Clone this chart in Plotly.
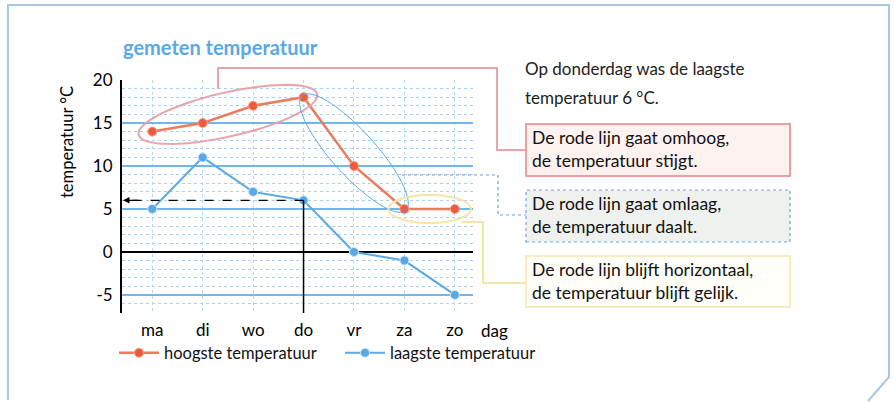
import numpy as np
import plotly.graph_objects as go

# ---- data ----
days = ["ma", "di", "wo", "do", "vr", "za", "zo"]
hoogste = [14, 15, 17, 18, 10, 5, 5]
laagste = [5, 11, 7, 6, 0, -1, -5]
y_ticks = [-5, 0, 5, 10, 15, 20]
y_ticklabels = ["-5", "0", "5", "10", "15", "20"]

title_text = "gemeten temperatuur"
y_title = "temperatuur °C"
x_title = "dag"
note_lines = ["Op donderdag was de laagste", "temperatuur 6 °C."]
box_texts = [
    ["De rode lijn gaat omhoog,", "de temperatuur stijgt."],
    ["De rode lijn gaat omlaag,", "de temperatuur daalt."],
    ["De rode lijn blijft horizontaal,", "de temperatuur blijft gelijk."],
]

# ---- layout geometry (pixels) ----
W, H = 894, 402
L, R, T, B = 122, 473, 80, 313
XMIN, XMAX = -0.6, 6.36
YMIN, YMAX = -7.1, 20.0

FONT = "Lato"
RED = "#ee5a3c"
REDLINE = "#ec7c5e"
BLUE = "#5aa8e6"
GRIDBLUE = "#72b6ee"
PINK = "#e8a4a8"
YEL = "#f3e6a6"


def px(x):
    return (x - L) / (R - L)


def py(y):
    return (B - y) / (B - T)


def d2p(i, v):
    return (L + (i - XMIN) / (XMAX - XMIN) * (R - L),
            B - (v - YMIN) / (YMAX - YMIN) * (B - T))


def ellipse_path(p0, p1, pad, minor):
    (x0, y0), (x1, y1) = p0, p1
    cx, cy = (x0 + x1) / 2, (y0 + y1) / 2
    ang = np.arctan2(y1 - y0, x1 - x0)
    a = np.hypot(x1 - x0, y1 - y0) / 2 + pad
    t = np.linspace(0, 2 * np.pi, 80)
    ex = cx + a * np.cos(t) * np.cos(ang) - minor * np.sin(t) * np.sin(ang)
    ey = cy + a * np.cos(t) * np.sin(ang) + minor * np.sin(t) * np.cos(ang)
    pts = [f"{px(X):.4f},{py(Y):.4f}" for X, Y in zip(ex, ey)]
    return "M " + " L ".join(pts) + " Z"


def poly(points):
    return "M " + " L ".join(f"{px(x):.4f},{py(y):.4f}" for x, y in points)


xs = list(range(len(days)))
fig = go.Figure()
fig.add_trace(go.Scatter(
    x=xs, y=hoogste, mode="lines+markers", name="hoogste temperatuur",
    line=dict(color=REDLINE, width=2.5),
    marker=dict(color=RED, size=9, line=dict(color="#f7a08a", width=1)),
    legend="legend",
))
fig.add_trace(go.Scatter(
    x=xs, y=laagste, mode="lines+markers", name="laagste temperatuur",
    line=dict(color=BLUE, width=2),
    marker=dict(color=BLUE, size=9, line=dict(color="#cfe6f8", width=1)),
    legend="legend2",
))

shapes = []
# outer frame
shapes.append(dict(type="path", xref="paper", yref="paper",
                   path=poly([(8, 400), (8, 5), (889, 5), (889, 377), (868, 401)]),
                   line=dict(color="#a9c6e6", width=2)))
# vertical black line at "do" from laagste down to bottom
do_i = days.index("do")
shapes.append(dict(type="line", xref="x", yref="y", x0=do_i, x1=do_i,
                   y0=laagste[do_i], y1=YMIN, line=dict(color="black", width=1.5)))
# dashed horizontal line at laagste of do to axis
shapes.append(dict(type="line", xref="x", yref="y", x0=do_i, x1=XMIN + 0.08,
                   y0=laagste[do_i], y1=laagste[do_i],
                   line=dict(color="black", width=1.3, dash="dash")))

# red ellipse around rising part
p0 = d2p(0, hoogste[0]); p1 = d2p(3, hoogste[3])
shapes.append(dict(type="path", xref="paper", yref="paper",
                   path=ellipse_path(p0, p1, 14, 22), line=dict(color=PINK, width=2)))
# blue ellipse around falling part
p0 = d2p(3, hoogste[3]); p1 = d2p(5, hoogste[5])
shapes.append(dict(type="path", xref="paper", yref="paper",
                   path=ellipse_path(p0, p1, 2, 22), line=dict(color=BLUE, width=1)))
# yellow ellipse around flat part
p0 = d2p(5, hoogste[5]); p1 = d2p(6, hoogste[6])
shapes.append(dict(type="path", xref="paper", yref="paper",
                   path=ellipse_path(p0, p1, 16, 14), line=dict(color=YEL, width=2)))

# connectors
shapes.append(dict(type="path", xref="paper", yref="paper",
                   path=poly([(218, 89), (218, 68), (497, 68), (497, 150), (526, 150)]),
                   line=dict(color=PINK, width=2)))
shapes.append(dict(type="path", xref="paper", yref="paper",
                   path=poly([(402, 175), (498, 175), (498, 215), (526, 215)]),
                   line=dict(color="#6a9fd0", width=1.2, dash="dot")))
shapes.append(dict(type="path", xref="paper", yref="paper",
                   path=poly([(462, 222), (483, 222), (483, 283), (526, 283)]),
                   line=dict(color=YEL, width=2)))

# boxes
boxes = [
    dict(y0=124, y1=176, fill="#fdf2f0", line=dict(color="#eaa0a0", width=2)),
    dict(y0=190, y1=242, fill="#eef1ee", line=dict(color="#6aa6dc", width=1.2, dash="dot")),
    dict(y0=256, y1=307, fill="#fffef8", line=dict(color="#f6ecc0", width=2)),
]
for bx in boxes:
    shapes.append(dict(type="rect", xref="paper", yref="paper",
                       x0=px(526), x1=px(790), y0=py(bx["y1"]), y1=py(bx["y0"]),
                       fillcolor=bx["fill"], line=bx["line"], layer="below"))

annotations = []
# arrowhead at y-axis
annotations.append(dict(x=XMIN + 0.02, y=laagste[do_i], ax=XMIN + 0.35, ay=laagste[do_i],
                        xref="x", yref="y", axref="x", ayref="y", text="",
                        showarrow=True, arrowhead=2, arrowsize=1, arrowwidth=1.3,
                        arrowcolor="black"))
annotations.append(dict(x=px(121), y=py(47), xref="paper", yref="paper", text=f"<b>{title_text}</b>",
                        showarrow=False, xanchor="left", yanchor="middle",
                        font=dict(family=FONT, size=20, color=BLUE)))
annotations.append(dict(x=px(67), y=py(142), xref="paper", yref="paper", text=y_title,
                        showarrow=False, textangle=-90, xanchor="center", yanchor="middle",
                        font=dict(family=FONT, size=16.5, color="black")))
annotations.append(dict(x=px(494), y=py(330), xref="paper", yref="paper", text=x_title,
                        showarrow=False, xanchor="center", yanchor="middle",
                        font=dict(family=FONT, size=17, color="black")))
for k, line in enumerate(note_lines):
    annotations.append(dict(x=px(523), y=py(69 + 28.5 * k), xref="paper", yref="paper", text=line,
                            showarrow=False, xanchor="left", yanchor="middle",
                            font=dict(family=FONT, size=17, color="#222")))
for bx, lines in zip(boxes, box_texts):
    annotations.append(dict(x=px(530), y=py((bx["y0"] + bx["y1"]) / 2 - 1), xref="paper", yref="paper",
                            text="<br>".join(lines), showarrow=False, xanchor="left",
                            yanchor="middle", align="left",
                            font=dict(family=FONT, size=17.5, color="#111")))

legend_common = dict(orientation="h", yanchor="middle", xanchor="left",
                     font=dict(family=FONT, size=16.5, color="#111"),
                     bgcolor="rgba(0,0,0,0)", itemwidth=40)

fig.update_layout(
    width=W, height=H,
    margin=dict(l=L, r=W - R, t=T, b=H - B),
    paper_bgcolor="white", plot_bgcolor="white",
    font=dict(family=FONT, size=16, color="black"),
    showlegend=True,
    legend=dict(x=px(114), y=py(353), **legend_common),
    legend2=dict(x=px(340), y=py(353), **legend_common),
    shapes=shapes, annotations=annotations,
)
fig.update_xaxes(
    range=[XMIN, XMAX], tickmode="array", tickvals=xs, ticktext=days,
    showgrid=True, gridcolor="#b7d8f3", griddash="dot", gridwidth=1,
    zeroline=False, showline=False, ticks="", ticklabelstandoff=5,
    tickfont=dict(family=FONT, size=17),
)
fig.update_yaxes(
    range=[YMIN, YMAX], tickmode="array", tickvals=y_ticks, ticktext=y_ticklabels,
    showgrid=True, gridcolor=GRIDBLUE, gridwidth=2,
    minor=dict(dtick=1, tick0=0, showgrid=True, gridcolor="#a9d0f2", griddash="dot", gridwidth=1),
    zeroline=True, zerolinecolor="black", zerolinewidth=2,
    showline=True, linecolor="black", linewidth=2, ticks="", ticklabelstandoff=4,
    tickfont=dict(family=FONT, size=17),
)

fig.write_html("out.html", config={"displayModeBar": False},
               post_script="document.body.style.margin='0';")
